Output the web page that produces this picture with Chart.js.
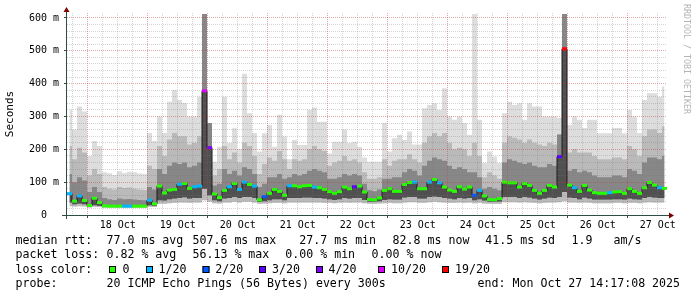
<!DOCTYPE html>
<html>
<head>
<meta charset="utf-8">
<title>SmokePing - 10 days</title>
<script src="https://cdn.jsdelivr.net/npm/chart.js@4.4.1/dist/chart.umd.min.js"></script>
<style>
  html, body { margin: 0; padding: 0; background: #fff; }
  #wrap { position: relative; width: 697px; height: 297px; }
</style>
</head>
<body>
<div id="wrap"><canvas id="smoke"></canvas></div>
<script>
// time axis in hours, counted from 18 Oct 00:00; one bin = 2 hours
const binStart = -8.3;
const binHours = 2;
const axisEnd = 231.7;
const dayLabels = ['18 Oct', '19 Oct', '20 Oct', '21 Oct', '22 Oct', '23 Oct', '24 Oct', '25 Oct', '26 Oct', '27 Oct'];

// smoke, in ms (top of lightest band, upper bands, median, lower edges)
const maxRtt = [
  320,260,330,315,180,225,210,130,127,122, 133,128,132,130,126,125,250,225,300,250,
  345,380,350,341,300,300,360,612,280,162, 208,360,219,264,200,430,310,250,193,249,
  274,208,305,239,170,228,213,213,320,327, 284,284,187,223,223,260,219,223,207,175,
  162,162,162,280,193,234,244,228,254,215, 215,325,335,340,320,386,300,290,300,280,
  244,612,290,158,193,178,158,310,345,335, 340,290,340,330,330,300,300,300,295,612,
  274,300,290,265,290,290,249,249,249,265, 265,249,320,300,250,350,371,371,360,391
];
const hiRtt = [
  210,170,205,190,120,140,125,85,80,78, 85,82,84,80,78,76,150,140,210,180,
  230,250,240,240,215,220,240,612,280,120, 140,210,170,190,160,220,210,180,125,155,
  175,165,195,170,140,170,165,170,200,210, 200,195,150,160,165,180,165,170,160,130,
  110,110,115,170,150,165,170,170,185,170, 160,220,240,250,240,250,220,200,205,200,
  180,220,180,115,130,120,110,220,240,235, 230,220,230,220,215,210,220,215,245,612,
  190,200,190,190,190,180,170,170,170,175, 175,170,210,200,180,240,260,260,250,270
];
const midRtt = [
  125,100,115,105,70,85,70,52,48,46, 50,48,49,47,46,45,85,78,140,125,
  150,160,155,160,145,150,160,612,280,90, 95,140,125,135,120,145,140,125,85,95,
  115,115,125,110,115,125,120,125,135,140, 135,130,110,110,115,125,120,125,120,95,
  75,72,78,110,110,115,115,130,140,135, 120,150,165,175,170,165,150,140,145,140,
  130,130,115,80,85,80,75,160,170,165, 160,155,160,150,145,145,155,150,245,612,
  135,140,130,135,130,120,115,115,115,120, 120,115,140,135,125,160,175,175,170,180
];
const medianRtt = [
  65,42,58,44,29,51,38,28,27,27, 27,27,27,27,27,27,45,34,88,67,
  76,78,94,96,81,86,88,378,205,64, 53,75,86,96,78,100,93,88,46,56,
  66,78,72,60,89,89,86,89,90,85, 83,78,71,66,71,85,80,86,88,70,
  47,46,52,75,80,72,72,93,99,100, 80,80,100,108,98,85,76,72,86,79,
  85,60,75,58,47,46,50,100,98,98, 85,96,90,75,66,75,90,85,178,506,
  91,83,72,90,76,68,66,66,68,70, 71,66,80,72,66,83,99,91,83,81
];
const lowRtt = [
  38,33,35,33,26,30,28,25,24,24, 24,24,24,24,24,24,30,28,45,44,
  48,50,52,54,50,52,52,80,60,45, 42,50,52,55,52,55,55,52,40,42,
  45,48,48,45,52,52,52,53,53,52, 52,50,48,46,48,52,50,52,52,46,
  40,40,42,46,48,47,47,53,55,55, 50,50,55,56,55,52,50,48,52,50,
  52,45,48,44,40,40,41,55,55,55, 52,55,53,50,47,50,53,52,55,70,
  53,52,48,53,50,47,47,47,47,48, 48,47,50,48,47,52,55,53,52,52
];
const minRtt = [
  27,26,27,26,23,25,24,22,22,22, 22,22,22,22,22,22,25,24,34,34,
  36,37,38,38,37,38,38,45,40,36, 35,38,38,40,38,40,40,38,34,35,
  36,37,37,36,38,38,38,38,38,38, 38,37,37,36,37,38,37,38,38,36,
  34,34,35,36,37,36,36,38,39,39, 37,37,39,40,39,38,37,37,38,37,
  38,36,37,35,34,34,34,39,39,39, 38,39,38,37,36,37,38,38,39,42,
  38,38,37,38,37,36,36,36,36,37, 37,36,37,37,36,38,39,38,38,38
];
// loss per bin, index into lossLabels
const lossIdx = [
  1,0,1,0,0,0,0,0,0,0, 0,1,1,0,0,0,1,0,0,0,
  0,0,1,0,0,1,1,5,4,0, 0,0,1,0,1,1,0,1,0,2,
  0,0,0,0,1,0,0,0,0,1, 0,0,0,0,0,0,0,3,0,0,
  0,0,0,0,0,0,0,0,0,1, 0,0,1,0,1,0,0,0,0,0,
  0,2,1,0,0,0,0,0,0,0, 0,0,0,0,0,0,0,0,3,6,
  0,1,0,0,0,0,0,0,1,0, 0,0,0,0,0,0,0,0,1,0
];

const lossLabels = ['0', '1/20', '2/20', '3/20', '4/20', '10/20', '19/20'];
const lossColors = ['#26ff00', '#00b8ff', '#0059ff', '#5e00ff', '#7e00ff', '#dd00ff', '#ff0000'];

const rttStats = ['77.0 ms avg', '507.6 ms max', '27.7 ms min', '82.8 ms now', '41.5 ms sd', '1.9', 'am/s'];
const lossStats = ['0.82 % avg', '56.13 % max', '0.00 % min', '0.00 % now'];
const probeText = '20 ICMP Echo Pings (56 Bytes) every 300s';
const endText = 'end: Mon Oct 27 14:17:08 2025';

const majorGrid = 'rgba(190,60,60,0.45)';
const minorGrid = 'rgba(120,120,120,0.32)';
const axisColor = '#2c4d43';
const arrowColor = '#7f0000';
const mono = '"DejaVu Sans Mono", "Liberation Mono", monospace';

function bins(values) {
  return values.map((v, i) => ({ x: binStart + binHours * (i + 0.5), y: v }));
}

const gridHours = [];
for (let h = -6; h <= 228; h += 6) gridHours.push(h);
const gridMs = [];
for (let v = 0; v <= 600; v += 20) gridMs.push(v);

function band(label, values, target, color, order) {
  return {
    label, data: bins(values), order, stepped: 'middle',
    borderColor: 'rgba(0,0,0,0)', borderWidth: 0,
    backgroundColor: color,
    fill: target === null ? false : { target, above: color, below: color }
  };
}

// axes with arrows, watermark and the legend block
const framePlugin = {
  id: 'frame',
  afterDraw(chart) {
    const { ctx, chartArea: a } = chart;
    ctx.save();
    ctx.strokeStyle = axisColor;
    ctx.lineWidth = 1;
    ctx.beginPath();
    ctx.moveTo(a.left - 5, a.bottom + 0.5); ctx.lineTo(a.right + 3, a.bottom + 0.5);
    ctx.moveTo(a.left - 0.5, a.bottom + 4); ctx.lineTo(a.left - 0.5, a.top - 3);
    ctx.stroke();

    ctx.fillStyle = arrowColor;
    ctx.beginPath();
    ctx.moveTo(a.right + 2, a.bottom - 2.5); ctx.lineTo(a.right + 7, a.bottom + 0.5); ctx.lineTo(a.right + 2, a.bottom + 3.5);
    ctx.closePath(); ctx.fill();
    ctx.beginPath();
    ctx.moveTo(a.left - 3.5, a.top - 1); ctx.lineTo(a.left - 0.5, a.top - 6); ctx.lineTo(a.left + 2.5, a.top - 1);
    ctx.closePath(); ctx.fill();

    // watermark
    ctx.save();
    ctx.translate(686, 4);
    ctx.rotate(Math.PI / 2);
    ctx.fillStyle = '#b4b4b4';
    ctx.font = '8.3px ' + mono;
    ctx.textBaseline = 'middle';
    ctx.fillText('RRDTOOL / TOBI OETIKER', 0, 0);
    ctx.restore();

    // legend
    ctx.fillStyle = '#000';
    ctx.font = '11.6px ' + mono;
    ctx.textBaseline = 'middle';
    const rows = [241, 255.3, 269.7, 284];
    ctx.fillText('median rtt:', 15.5, rows[0]);
    [106.5, 192.5, 299.3, 392.6, 485.3, 571.6, 613.6].forEach((x, i) => ctx.fillText(rttStats[i], x, rows[0]));
    ctx.fillText('packet loss:', 15.5, rows[1]);
    [106.5, 192.5, 285.3, 371.6].forEach((x, i) => ctx.fillText(lossStats[i], x, rows[1]));
    ctx.fillText('loss color:', 15.5, rows[2]);
    const boxX = [109, 146, 202.5, 259, 316, 378, 442];
    const textX = [122.6, 158.6, 215.3, 272, 328.6, 391, 455];
    boxX.forEach((x, i) => {
      ctx.fillStyle = lossColors[i];
      ctx.fillRect(x, 266, 7, 7);
      ctx.strokeStyle = '#000';
      ctx.strokeRect(x + 0.5, 266.5, 6, 6);
      ctx.fillStyle = '#000';
      ctx.fillText(lossLabels[i], textX[i], rows[2]);
    });
    ctx.fillText('probe:', 15.5, rows[3]);
    ctx.fillText(probeText, 106.5, rows[3]);
    ctx.fillText(endText, 477.6, rows[3]);
    ctx.restore();
  }
};

const datasets = [
  band('min', minRtt, null, 'rgba(0,0,0,0)', 9),
  band('low', lowRtt, null, 'rgba(0,0,0,0)', 9),
  band('max', maxRtt, 0, '#dddddd', 8),
  band('upper', hiRtt, 0, '#bababa', 7),
  band('middle', midRtt, 1, '#878787', 6),
  Object.assign(band('median band', medianRtt, 1, '#505050', 5), { borderColor: '#1a1a1a', borderWidth: 1 }),
  {
    label: 'median rtt', data: bins(medianRtt), order: 1, showLine: false,
    pointStyle: 'line', pointRadius: 2.5, pointBorderWidth: 3,
    pointBorderColor: lossIdx.map(i => lossColors[i]),
    pointBackgroundColor: lossIdx.map(i => lossColors[i])
  }
];

new Chart(document.getElementById('smoke'), {
  type: 'line',
  data: { datasets },
  plugins: [framePlugin],
  options: {
    responsive: true,
    maintainAspectRatio: false,
    animation: false,
    devicePixelRatio: 1,
    events: [],
    layout: { padding: { top: 13, right: 30, left: 0, bottom: 0 } },
    plugins: { legend: { display: false }, tooltip: { enabled: false } },
    elements: { point: { radius: 0 }, line: { tension: 0 } },
    scales: {
      x: {
        type: 'linear', min: binStart, max: axisEnd,
        afterBuildTicks: s => { s.ticks = gridHours.map(v => ({ value: v })); },
        afterFit: s => { s.height = 82; },
        grid: {
          z: 1, lineWidth: 1, tickLength: 3,
          color: c => (c.tick && c.tick.value % 24 === 0) ? majorGrid : minorGrid,
          tickColor: c => (c.tick && c.tick.value % 24 === 0) ? axisColor : 'rgba(0,0,0,0)'
        },
        border: { display: false, dash: [1, 1] },
        ticks: {
          autoSkip: false, maxRotation: 0, minRotation: 0, padding: 1, color: '#000',
          font: { family: mono, size: 10 },
          callback: v => ((v - 12) % 24 === 0 ? dayLabels[(v - 12) / 24] : '')
        }
      },
      y: {
        min: 0, max: 615,
        afterBuildTicks: s => { s.ticks = gridMs.map(v => ({ value: v })); },
        afterFit: s => { s.width = 67; },
        grid: {
          z: 1, lineWidth: 1, tickLength: 3,
          color: c => (c.tick && c.tick.value % 100 === 0) ? majorGrid : minorGrid,
          tickColor: c => (c.tick && c.tick.value % 100 === 0) ? axisColor : 'rgba(0,0,0,0)'
        },
        border: { display: false, dash: [1, 1] },
        title: {
          display: true, text: 'Seconds', color: '#000',
          font: { family: mono, size: 11 }, padding: { top: 4, bottom: 0 }
        },
        ticks: {
          autoSkip: false, padding: 5, color: '#000',
          font: { family: mono, size: 10 },
          callback: v => (v === 0 ? '0  ' : (v % 100 === 0 ? v + ' m' : ''))
        }
      }
    }
  }
});
</script>
</body>
</html>
